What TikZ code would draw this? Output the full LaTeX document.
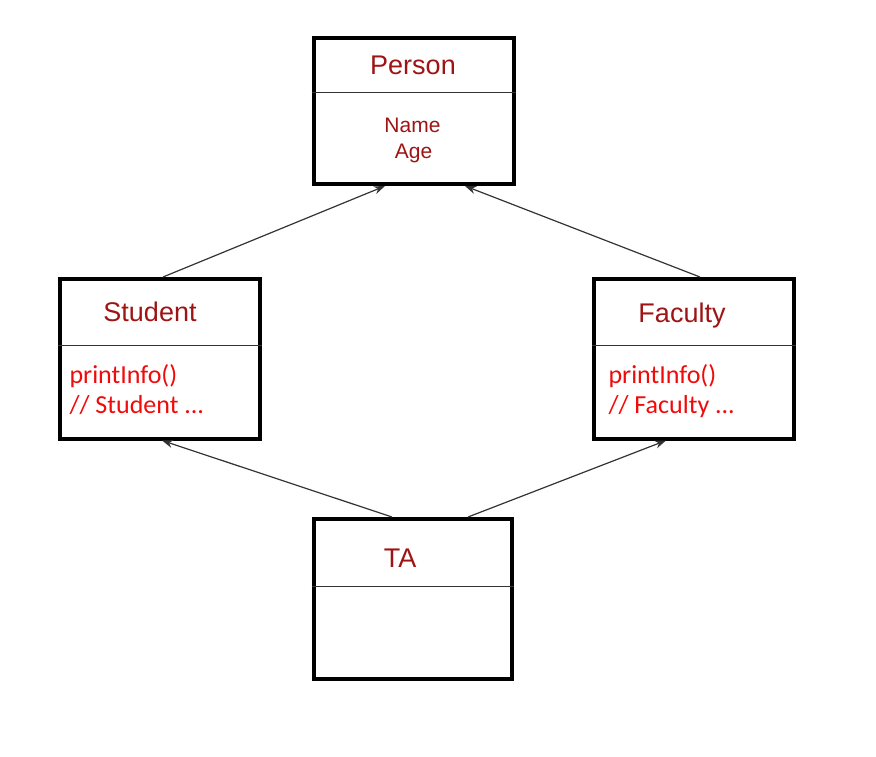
\documentclass[tikz,border=0pt]{standalone}
\usepackage{fontspec}
\setmainfont{Liberation Sans}
\newfontfamily\calibri{Carlito}
\usetikzlibrary{arrows.meta}
\definecolor{classred}{RGB}{158,20,20}
\definecolor{methodred}{RGB}{240,10,10}
\tikzset{
  classbox/.style={draw=black,line width=4pt,inner sep=0pt,minimum width=#1},
  classbox/.default=200pt,
  divider/.style={black!80,line width=1pt},
  classname/.style={anchor=base,text=classred,font=\fontsize{27}{32}\selectfont},
  fieldtext/.style={anchor=base,text=classred,font=\fontsize{21}{25}\selectfont},
  methodtext/.style={anchor=base west,text=methodred,font=\calibri\fontsize{26}{31}\selectfont},
  inherits/.style={black!80,line width=1.2pt,-{Stealth[length=11pt,width=8pt]}}
}
\begin{document}
\begin{tikzpicture}[x=1pt,y=-1pt]
\useasboundingbox (0,0) rectangle (876,756);
% class boxes
\node[classbox=200pt,minimum height=146.5pt] (person) at (413.5,110.75) {};
\node[classbox=200.5pt,minimum height=159.5pt] (student) at (159.75,358.75) {};
\node[classbox=199.5pt,minimum height=159.5pt] (faculty) at (693.75,358.75) {};
\node[classbox=198.5pt,minimum height=160pt] (ta) at (412.75,599) {};
% dividers
\draw[divider] ([yshift=-56.5pt]person.north west) -- ([yshift=-56.5pt]person.north east);
\draw[divider] ([yshift=-68pt]student.north west) -- ([yshift=-68pt]student.north east);
\draw[divider] ([yshift=-68pt]faculty.north west) -- ([yshift=-68pt]faculty.north east);
\draw[divider] ([yshift=-69pt]ta.north west) -- ([yshift=-69pt]ta.north east);
% texts
\node[classname] (personlabel) at (413,74.5) {Person};
\node[fieldtext] (namelabel) at (412.5,132) {Name};
\node[fieldtext] (agelabel) at (413.5,158.5) {Age};
\node[classname] (studentlabel) at (150,321) {Student};
\node[methodtext] (studentprint) at (66,383.5) {printInfo()};
\node[methodtext] (studentnote) at (66,413) {// Student ...};
\node[classname] (facultylabel) at (682,322) {Faculty};
\node[methodtext] (facultyprint) at (605,383) {printInfo()};
\node[methodtext] (facultynote) at (605,413) {// Faculty ...};
\node[classname] (talabel) at (400,567) {TA};
% inheritance arrows
\draw[inherits] ([xshift=3.25pt]student.north) -- ([xshift=-28.5pt]person.south);
\draw[inherits] ([xshift=6.25pt]faculty.north) -- ([xshift=51.5pt]person.south);
\draw[inherits] ([xshift=-20.75pt]ta.north) -- ([xshift=2.25pt]student.south);
\draw[inherits] ([xshift=55.25pt]ta.north) -- ([xshift=-27.75pt]faculty.south);
\end{tikzpicture}
\end{document}
